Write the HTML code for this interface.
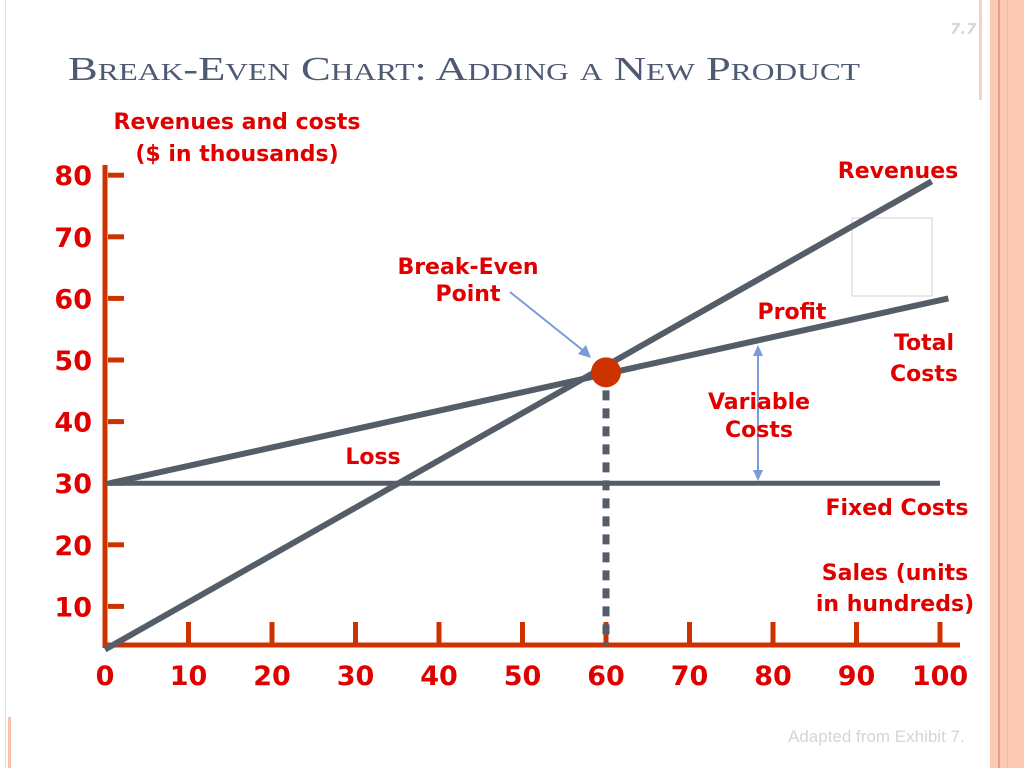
<!DOCTYPE html>
<html><head><meta charset="utf-8"><style>
body{margin:0;width:1024px;height:768px;overflow:hidden;background:#fff;font-family:"DejaVu Sans",sans-serif}
svg{display:block}
</style></head><body>
<svg width="1024" height="768">
<rect x="979" y="0" width="3" height="100" fill="#fbd0c0"/>
<rect x="990" y="0" width="34" height="768" fill="#fcc9b4"/>
<rect x="998" y="0" width="2" height="768" fill="#ec9c80"/>
<rect x="1007" y="0" width="1" height="768" fill="#f6b8a0"/>
<rect x="5" y="0" width="1" height="768" fill="#fbd6c8"/>
<rect x="8" y="717" width="3" height="51" fill="#fbc0ab"/>
<text x="950" y="34" font-size="15" font-weight="bold" font-style="italic" fill="#d8d8d8">7.7</text>
<text x="68" y="80" font-family="Liberation Serif,serif" font-size="34" fill="#4e5a72" textLength="792" lengthAdjust="spacingAndGlyphs" style="font-variant:small-caps">Break-Even Chart:  Adding a New Product</text>
<text x="237" y="129" text-anchor="middle" font-size="22" font-weight="bold" fill="#e00000">Revenues and costs</text>
<text x="237" y="161" text-anchor="middle" font-size="22" font-weight="bold" fill="#e00000">($ in thousands)</text>
<rect x="852" y="218" width="80" height="78" fill="none" stroke="#d0d0d0"/>
<g id="chart"></g>
<text x="788" y="742" font-family="Liberation Sans,sans-serif" font-size="17" fill="#d5d5d5">Adapted from Exhibit 7.</text>
</svg>
<script>
const xTicks=[0,10,20,30,40,50,60,70,80,90,100];
const yTicks=[10,20,30,40,50,60,70,80];
const revX=[0,99];
const revY=[3,79];
const totalX=[0.6,101];
const totalY=[30,60];
const fixedX=[0,100];
const fixedY=[30,30];
const breakEven=[60,48];
const NS="http://www.w3.org/2000/svg";
const g=document.getElementById('chart');
const sx=v=>105+v*8.35;
const sy=v=>668-v*6.16;
function el(t,a,name,txt){const e=document.createElementNS(NS,t);for(const k in a)e.setAttribute(k,a[k]);


if(txt!==undefined)e.textContent=txt;g.appendChild(e);return e;}
const red="#e00000",ax="#cc3300",ln="#555d68";
el('line',{x1:105,y1:165,x2:105,y2:648,stroke:ax,'stroke-width':5},'y-axis');
el('line',{x1:103,y1:645,x2:960,y2:645,stroke:ax,'stroke-width':5},'x-axis');
yTicks.forEach(v=>{el('line',{x1:108,y1:sy(v),x2:124,y2:sy(v),stroke:ax,'stroke-width':5},'y-tick');
el('text',{x:92,y:sy(v)+10,'text-anchor':'end','font-size':27,'font-weight':'bold',fill:red},'y-tick-label',v);});
xTicks.forEach(v=>{if(v>0)el('line',{x1:sx(v),y1:622,x2:sx(v),y2:645,stroke:ax,'stroke-width':5},'x-tick');
el('text',{x:sx(v),y:685,'text-anchor':'middle','font-size':27,'font-weight':'bold',fill:red},'x-tick-label',v);});
el('line',{x1:sx(fixedX[0]),y1:sy(fixedY[0]),x2:sx(fixedX[1]),y2:sy(fixedY[1]),stroke:ln,'stroke-width':5},'fixed-costs-line');
el('line',{x1:sx(totalX[0]),y1:sy(totalY[0]),x2:sx(totalX[1]),y2:sy(totalY[1]),stroke:ln,'stroke-width':6},'total-costs-line');
el('line',{x1:sx(revX[0]),y1:sy(revY[0]),x2:sx(revX[1]),y2:sy(revY[1]),stroke:ln,'stroke-width':6},'revenues-line');
el('line',{x1:sx(breakEven[0]),y1:sy(breakEven[1]),x2:sx(breakEven[0]),y2:645,stroke:ln,'stroke-width':7,'stroke-dasharray':'10 8'},'break-even-drop-line');
el('circle',{cx:sx(breakEven[0]),cy:sy(breakEven[1]),r:15,fill:"#cc3300"},'break-even-point');
el('line',{x1:510,y1:292,x2:585,y2:352,stroke:"#7a9ad8",'stroke-width':2},'break-even-arrow');
el('polygon',{points:"591,358 578,354 586,345",fill:"#7a9ad8"},'arrow-head');
el('line',{x1:758,y1:352,x2:758,y2:474,stroke:"#7a9ad8",'stroke-width':2},'variable-costs-arrow');
el('polygon',{points:"758,345 753,356 763,356",fill:"#7a9ad8"},'arrow-head-top');
el('polygon',{points:"758,481 753,470 763,470",fill:"#7a9ad8"},'arrow-head-bottom');
const labels=[["Revenues",898,178],["Break-Even",468,274],["Point",468,301],["Profit",792,319],["Total",924,350],["Costs",924,381],["Variable",759,409],["Costs",759,437],["Loss",373,464],["Fixed Costs",897,515],["Sales (units",895,580],["in hundreds)",895,611]];
labels.forEach(l=>el('text',{x:l[1],y:l[2],'text-anchor':'middle','font-size':22,'font-weight':'bold',fill:red},'annotation-label',l[0]));
</script>
</body></html>
